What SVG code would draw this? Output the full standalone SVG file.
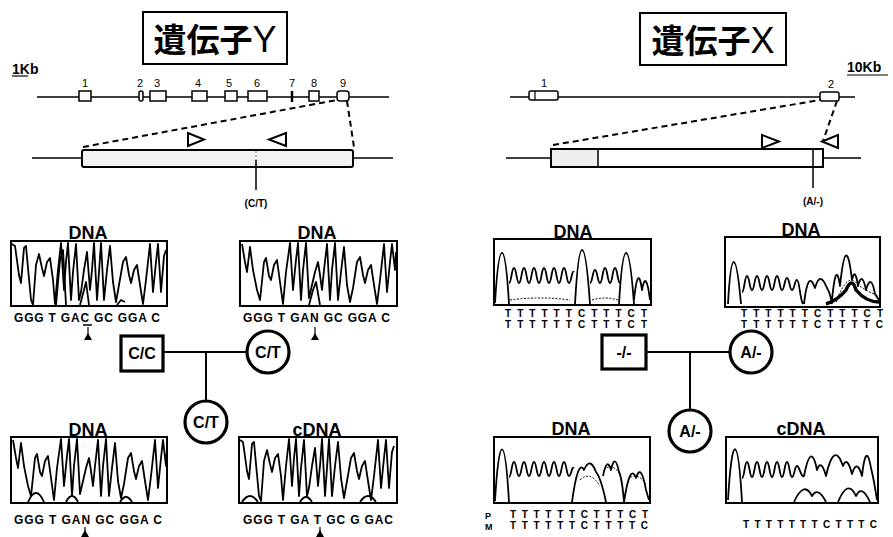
<svg xmlns="http://www.w3.org/2000/svg" width="893" height="537" viewBox="0 0 893 537">
<style>
.ln{stroke:#000;stroke-width:2;fill:none}
.thin{stroke:#000;stroke-width:1.5;fill:none}
.dash{stroke:#000;stroke-width:2;fill:none;stroke-dasharray:6 4}
.tr{stroke:#000;stroke-width:1.8;fill:none;stroke-linejoin:round}
.tr2{stroke:#000;stroke-width:1;fill:none;stroke-dasharray:2 1.5}
.box{fill:#fff;stroke:#000;stroke-width:2}
.ex{fill:#fff;stroke:#000;stroke-width:1.5}
.sym{fill:#fff;stroke:#000;stroke-width:3.2}
.tri{fill:#fff;stroke:#000;stroke-width:2}
.t{font-family:"Liberation Sans",Arial,sans-serif;font-weight:bold;fill:#000}
.title{font-family:"Noto Sans CJK JP","Liberation Sans",sans-serif;font-weight:bold;font-size:33px;fill:#000}
.lat{font-family:"Liberation Sans",Arial,sans-serif;font-weight:normal;font-size:36px}
.num{font-family:"Liberation Sans",Arial,sans-serif;font-size:11px;text-anchor:middle}
.dna{font-size:18px;text-anchor:middle}
.seq{font-size:12px}
.sm{font-size:10px}
.ped{font-size:16px;text-anchor:middle}
</style>

<!-- Titles -->
<g id="title-y">
<rect x="143" y="12" width="144" height="52" fill="#fff" stroke="#000" stroke-width="2"/>
<text class="title" x="215" y="52" text-anchor="middle">遺伝子<tspan class="lat">Y</tspan></text>
</g>
<g id="title-x">
<rect x="640" y="13" width="146" height="52" fill="#fff" stroke="#000" stroke-width="2"/>
<text class="title" x="713" y="53" text-anchor="middle">遺伝子<tspan class="lat">X</tspan></text>
</g>

<!-- Gene Y map -->
<g id="geneY-map">
<text class="t" x="12" y="74" font-size="14">1Kb</text>
<line x1="12" y1="76" x2="28" y2="76" stroke="#000" stroke-width="1.2"/>
<line class="thin" x1="37" y1="97" x2="389" y2="97"/>
<rect class="ex" x="79" y="91" width="12" height="10"/>
<rect class="ex" x="139" y="91" width="4" height="10" rx="2"/>
<rect class="ex" x="150" y="91" width="16" height="10"/>
<rect class="ex" x="192" y="91" width="15" height="10"/>
<rect class="ex" x="225" y="91" width="12" height="10"/>
<rect class="ex" x="248" y="91" width="19" height="10"/>
<line x1="292" y1="91" x2="292" y2="102" stroke="#000" stroke-width="2.5"/>
<rect class="ex" x="309" y="91" width="10" height="10"/>
<rect class="ex" x="337" y="91" width="12" height="10" rx="3"/>
<text class="num" x="85" y="87">1</text>
<text class="num" x="140" y="87">2</text>
<text class="num" x="157" y="87">3</text>
<text class="num" x="198" y="87">4</text>
<text class="num" x="229" y="87">5</text>
<text class="num" x="257" y="87">6</text>
<text class="num" x="292" y="87">7</text>
<text class="num" x="314" y="87">8</text>
<text class="num" x="343" y="87">9</text>
</g>

<g id="geneY-exon9">
<line class="thin" x1="32" y1="158" x2="82" y2="158"/>
<line class="thin" x1="353" y1="158" x2="393" y2="158"/>
<rect x="82" y="150" width="271" height="17" rx="2" fill="#f2f2f2" stroke="#000" stroke-width="2"/>
<line x1="256" y1="151" x2="256" y2="166" stroke="#888" stroke-width="1" stroke-dasharray="2 2"/>
<line class="thin" x1="256" y1="160" x2="256" y2="190"/>
<polygon class="tri" points="188,133 188,146 204,139.5"/>
<polygon class="tri" points="286,133 286,146 269,139.5"/>
<text class="t sm" x="256" y="207" text-anchor="middle">(C/T)</text>
</g>

<!-- Gene X map -->
<g id="geneX-map">
<text class="t" x="847" y="72" font-size="14">10Kb</text>
<line x1="847" y1="75" x2="888" y2="75" stroke="#000" stroke-width="1.2"/>
<line class="thin" x1="510" y1="97" x2="855" y2="97"/>
<rect class="ex" x="529" y="91" width="29" height="9" rx="2"/>
<line x1="535" y1="91" x2="535" y2="100" stroke="#000" stroke-width="1.2"/>
<rect class="ex" x="820" y="92" width="19" height="9" rx="2"/>
<text class="num" x="544" y="87">1</text>
<text class="num" x="831" y="88">2</text>
</g>

<g id="geneX-exon2">
<line class="thin" x1="506" y1="158" x2="551" y2="158"/>
<line class="thin" x1="823" y1="158" x2="861" y2="158"/>
<rect x="551" y="149" width="272" height="18" fill="#fff" stroke="#000" stroke-width="2"/>
<rect x="552" y="150" width="46" height="16" fill="#eeeeee"/>
<line x1="598" y1="149" x2="598" y2="167" stroke="#000" stroke-width="1.5"/>
<line x1="813" y1="149" x2="813" y2="188" stroke="#000" stroke-width="1.5"/>
<polygon class="tri" points="762,135 762,148 779,141.5"/>
<polygon class="tri" points="838,135 838,148 822,141.5"/>
<text class="t sm" x="813" y="205" text-anchor="middle">(A/-)</text>
</g>

<!-- Connectors -->
<g id="connectors">
<line class="dash" x1="83" y1="147" x2="337" y2="100"/>
<line class="dash" x1="347" y1="101" x2="354" y2="147"/>
<line class="dash" x1="553" y1="145" x2="820" y2="100"/>
<line class="dash" x1="837" y1="101" x2="823" y2="141"/>
<line class="ln" x1="163" y1="352" x2="247" y2="352"/>
<line class="ln" x1="206" y1="352" x2="206" y2="401"/>
<line class="ln" x1="646" y1="352" x2="729" y2="352"/>
<line class="ln" x1="690" y1="352" x2="690" y2="410"/>
</g>

<!-- Gene Y chromatograms -->
<g id="chromY-father">
<text class="t dna" x="88" y="239">DNA</text>
<rect class="box" x="11" y="241" width="156" height="65"/>
<polyline class="tr" points="12,244 15,246 19,275 21,283 24,248 26,246 28,268 31,300 33,305 36,265 39,254 42,268 44,276 47,262 50,258 53,280 55,304 58,270 61,243 64,290 66,262 68,243 71,300 73,272 76,244 79,300 81,292 84,270 87,252 90,290 92,270 94,243 97,300 99,272 101,243 104,300 107,270 110,246 113,282 116,302 119,285 123,262 126,257 129,275 131,283 134,270 137,265 140,285 143,304 146,280 150,244 153,292 156,262 158,244 161,292 164,256 166,250"/>
<polyline class="tr" points="56,305 60,260 63,250 66,305"/>
<polyline class="tr" points="80,305 84,290 86,282 89,305"/>
<polyline class="tr" points="117,305 121,300 125,302"/>
<text class="t seq" x="14" y="322" textLength="146" lengthAdjust="spacing">GGG T GAC GC GGA C</text>
<line x1="83" y1="325" x2="92" y2="325" stroke="#000" stroke-width="1.5"/>
<line x1="88" y1="327" x2="88" y2="340" stroke="#000" stroke-width="1.2"/>
<polygon points="84,340 92,340 88,333" fill="#000"/>
</g>

<g id="chromY-mother">
<text class="t dna" x="317" y="239">DNA</text>
<rect class="box" x="240" y="241" width="157" height="65"/>
<polyline class="tr" points="242,244 245,262 247,272 250,247 253,270 257,290 260,300 264,262 266,258 269,276 271,280 274,265 277,260 280,282 283,304 286,272 290,243 293,290 296,260 298,243 301,300 303,270 306,243 309,298 312,285 315,272 318,262 320,275 322,290 324,270 327,244 330,300 332,270 335,243 338,300 341,272 344,247 347,285 350,302 353,288 357,262 360,257 363,275 365,283 368,270 371,265 374,285 377,304 380,280 384,244 387,292 390,262 392,244 395,270 396,252"/>
<polyline class="tr" points="309,305 313,290 316,282 320,305"/>
<text class="t seq" x="243" y="322" textLength="147" lengthAdjust="spacing">GGG T GAN GC GGA C</text>
<line x1="315" y1="327" x2="315" y2="340" stroke="#000" stroke-width="1.2"/>
<polygon points="311,340 319,340 315,333" fill="#000"/>
</g>

<g id="chromY-child-dna">
<text class="t dna" x="88" y="436">DNA</text>
<rect class="box" x="11" y="437" width="156" height="66"/>
<g transform="translate(-229,196)">
<polyline class="tr" points="242,244 245,262 247,272 250,247 253,270 257,290 260,300 264,262 266,258 269,276 271,280 274,265 277,260 280,282 283,304 286,272 290,243 293,290 296,260 298,243 301,300 303,270 306,243 309,298 312,285 315,272 318,262 320,275 322,290 324,270 327,244 330,300 332,270 335,243 338,300 341,272 344,247 347,285 350,302 353,288 357,262 360,257 363,275 365,283 368,270 371,265 374,285 377,304 380,280 384,244 387,292 390,262 392,244 395,270 396,252"/>
</g>
<path class="tr" d="M28,502 Q36,484 44,502 M66,502 Q72,490 78,502 M120,502 Q126,492 132,502"/>
<text class="t seq" x="14" y="524" textLength="148" lengthAdjust="spacing">GGG T GAN GC GGA C</text>
<line x1="85" y1="527" x2="85" y2="537" stroke="#000" stroke-width="1.2"/>
<polygon points="81,537 89,537 85,530" fill="#000"/>
</g>

<g id="chromY-child-cdna">
<text class="t dna" x="317" y="436">cDNA</text>
<rect class="box" x="239" y="437" width="158" height="66"/>
<g transform="translate(228,196)">
<polyline class="tr" points="12,244 15,246 19,275 21,283 24,248 26,246 28,268 31,300 33,305 36,265 39,254 42,268 44,276 47,262 50,258 53,280 55,304 58,270 61,243 64,290 66,262 68,243 71,300 73,272 76,244 79,300 81,292 84,270 87,252 90,290 92,270 94,243 97,300 99,272 101,243 104,300 107,270 110,246 113,282 116,302 119,285 123,262 126,257 129,275 131,283 134,270 137,265 140,285 143,304 146,280 150,244 153,292 156,262 158,244 161,292 164,256 166,250"/>
</g>
<path class="tr" d="M242,502 Q250,490 258,502 M300,502 Q306,492 312,502 M360,502 Q368,490 376,502"/>
<text class="t seq" x="243" y="524" textLength="150" lengthAdjust="spacing">GGG T GA T GC G GAC</text>
<line x1="320" y1="527" x2="320" y2="537" stroke="#000" stroke-width="1.2"/>
<polygon points="316,537 324,537 320,530" fill="#000"/>
</g>

<!-- Gene X chromatograms -->
<g id="chromX-father">
<text class="t dna" x="573" y="238">DNA</text>
<rect class="box" x="494" y="239" width="157" height="66"/>
<path class="tr" d="M495,303 C499,236 505,236 509,304 M509,283 C511.5,283 511.5,268 514,268 S516.5,283 519,283 S521.5,268 524,268 S526.5,283 529,283 S531.5,268 534,268 S536.5,283 539,283 S541.5,268 544,268 S546.5,283 549,283 S551.5,268 554,268 S556.5,283 559,283 S561.5,268 564,268 S566.5,283 569,283 S571.5,270 574,272 M575,304 C579,232 585,232 590,304 M590,283 C592.5,283 592.5,270 595,270 S597.5,283 600,283 S602.5,268 605,268 S607.5,283 610,283 S612.5,268 615,268 S617.5,283 620,283 M619,304 C623,236 629,236 634,304 M634,300 Q638,262 642,290 Q646,268 650,300"/>
<path class="tr2" d="M510,300 Q540,296 570,300 M592,300 Q605,296 618,300"/>
<text class="t sm" x="505" y="317" textLength="142" lengthAdjust="spacing">TTTTTTCTTTCT</text>
<text class="t sm" x="505" y="328" textLength="142" lengthAdjust="spacing">TTTTTTCTTTCT</text>
</g>

<g id="chromX-mother">
<text class="t dna" x="801" y="236">DNA</text>
<rect class="box" x="725" y="237" width="155" height="70"/>
<path class="tr" d="M728,304 C731,248 736,248 741,304 M742,292 C744.5,292 744.5,276 747,276 S749.5,290 752,290 S754.5,276 757,276 S759.5,290 762,290 S764.5,276 767,276 S769.5,290 772,290 S774.5,276 777,276 S779.5,290 782,290 S784.5,278 787,278 S789.5,290 792,290 S794.5,280 797,280 S800,300 803,304 M804,304 Q808,268 815,288 Q820,270 827,288 Q830,292 832,304 M832,300 Q836,258 840,286 Q846,228 852,280 Q855,266 858,286 Q862,270 866,290 Q871,272 875,294 L879,300"/>
<path d="M826,304 Q838,300 846,290 Q852,276 856,290 Q866,302 879,302" stroke="#000" stroke-width="3.5" fill="none"/>
<path class="tr2" d="M836,302 Q848,270 858,285 Q868,292 879,296"/>
<text class="t sm" x="741" y="317" textLength="142" lengthAdjust="spacing">TTTTTTCTTTCT</text>
<text class="t sm" x="741" y="328" textLength="142" lengthAdjust="spacing">TTTTTTCTTTTC</text>
</g>

<g id="chromX-child-dna">
<text class="t dna" x="571" y="435">DNA</text>
<rect class="box" x="494" y="437" width="156" height="66"/>
<path class="tr" d="M495,501 C499,432 505,432 509,502 M509,477 C511.5,477 511.5,462 514,462 S516.5,476 519,476 S521.5,462 524,462 S526.5,476 529,476 S531.5,462 534,462 S536.5,476 539,476 S541.5,462 544,462 S546.5,476 549,476 S551.5,462 554,462 S556.5,476 559,476 S561.5,462 564,462 S566.5,476 569,476 S571.5,466 574,468 M572,502 Q578,458 584,470 Q590,456 596,472 Q601,478 606,502 M603,476 Q607,456 611,470 Q615,452 619,472 Q622,478 624,502 M624,502 Q630,462 636,478 Q641,462 646,490 L649,500"/>
<path class="tr2" d="M580,480 Q590,470 600,486 M604,470 Q612,462 620,474 M628,480 Q636,470 646,484"/>
<text class="t" x="485" y="519" font-size="9">P</text>
<text class="t" x="485" y="530" font-size="9">M</text>
<text class="t sm" x="510" y="518" textLength="138" lengthAdjust="spacing">TTTTTTCTTTCT</text>
<text class="t sm" x="510" y="529" textLength="138" lengthAdjust="spacing">TTTTTTCTTTTC</text>
</g>

<g id="chromX-child-cdna">
<text class="t dna" x="801" y="435">cDNA</text>
<rect class="box" x="726" y="437" width="152" height="66"/>
<path class="tr" d="M728,500 C732,432 738,432 742,502 M742,478 C744.5,478 744.5,462 747,462 S749.5,477 752,477 S754.5,462 757,462 S759.5,477 762,477 S764.5,462 767,462 S769.5,477 772,477 S774.5,462 777,462 S779.5,477 782,477 S784.5,462 787,462 S789.5,477 792,477 S794.5,466 797,466 S801,478 804,476 Q811,440 817,470 Q821,458 826,476 Q834,440 843,466 Q847,455 852,474 Q857,458 862,476 Q866,440 871,468 Q874,480 877,500"/>
<path class="tr" d="M794,502 Q804,480 812,496 Q818,486 826,502 M838,502 Q848,478 856,496 Q862,484 870,502"/>
<text class="t sm" x="743" y="528" textLength="134" lengthAdjust="spacing">TTTTTTTCTTTC</text>
</g>

<!-- Pedigree Y -->
<g id="pedY-father">
<rect class="sym" x="121" y="336" width="42" height="35"/>
<text class="t ped" x="142" y="359">C/C</text>
</g>
<g id="pedY-mother">
<circle class="sym" cx="268" cy="352" r="21"/>
<text class="t ped" x="268" y="358">C/T</text>
</g>
<g id="pedY-child">
<circle class="sym" cx="206" cy="422" r="21"/>
<text class="t ped" x="206" y="428">C/T</text>
</g>

<!-- Pedigree X -->
<g id="pedX-father">
<rect class="sym" x="602" y="335" width="44" height="34"/>
<text class="t ped" x="624" y="358">-/-</text>
</g>
<g id="pedX-mother">
<circle class="sym" cx="751" cy="352" r="21"/>
<text class="t ped" x="751" y="358">A/-</text>
</g>
<g id="pedX-child">
<circle class="sym" cx="690" cy="431" r="21"/>
<text class="t ped" x="690" y="437">A/-</text>
</g>
</svg>
